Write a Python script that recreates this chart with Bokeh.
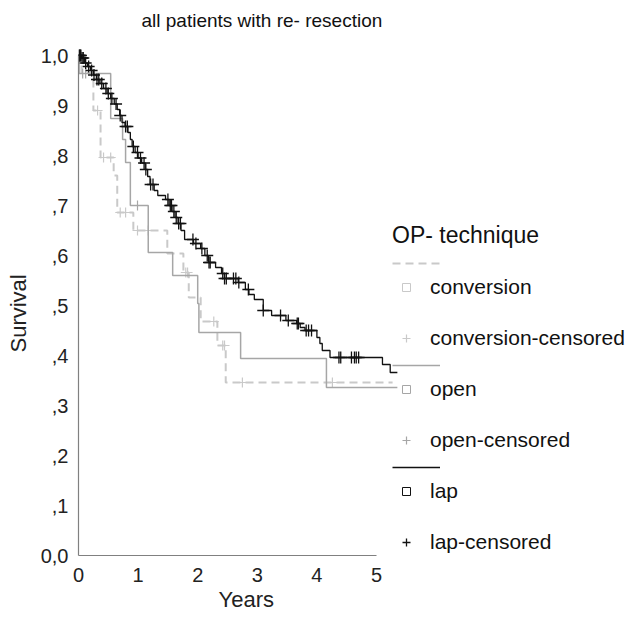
import numpy as np
from bokeh.plotting import figure
from bokeh.models import FixedTicker, Legend, LegendItem, Range1d, Title
from bokeh.core.properties import value
from bokeh.embed import file_html
from bokeh.resources import INLINE

# ---------------- data ----------------
# lap (black)
lap_times = [0.05, 0.10, 0.15, 0.20, 0.25, 0.30, 0.36, 0.42, 0.48, 0.54, 0.60, 0.65, 0.69,
             0.73, 0.78, 0.83, 0.87, 0.90, 0.95, 1.00, 1.06, 1.12, 1.16, 1.20, 1.27, 1.33,
             1.46, 1.52, 1.57, 1.62, 1.67, 1.72, 1.78, 1.93, 2.05, 2.12, 2.18, 2.30, 2.40,
             2.45, 2.68, 2.80, 2.86, 2.95, 3.10, 3.24, 3.48, 3.66, 3.72, 3.80, 4.00, 4.05,
             4.09, 4.22, 5.10, 5.23]
lap_surv = [0.995, 0.985, 0.978, 0.970, 0.961, 0.952, 0.944, 0.934, 0.924, 0.914, 0.903,
            0.892, 0.880, 0.866, 0.858, 0.846, 0.832, 0.818, 0.806, 0.795, 0.785, 0.772,
            0.758, 0.742, 0.730, 0.720, 0.712, 0.700, 0.688, 0.676, 0.664, 0.650, 0.632,
            0.624, 0.614, 0.600, 0.586, 0.576, 0.564, 0.554, 0.546, 0.532, 0.522, 0.512,
            0.490, 0.480, 0.470, 0.464, 0.456, 0.450, 0.436, 0.424, 0.410, 0.396, 0.382,
            0.366]
lap_end = 5.35
lap_censored = [0.01, 0.02, 0.03, 0.04, 0.06, 0.08, 0.12, 0.17, 0.22, 0.26, 0.31, 0.34,
                0.39, 0.46, 0.50, 0.56, 0.63, 0.70, 0.79, 0.82, 0.92, 0.99, 1.04, 1.10,
                1.13, 1.21, 1.25, 1.50, 1.54, 1.56, 1.60, 1.64, 1.68, 1.71, 1.92, 1.97,
                2.07, 2.16, 2.19, 2.21, 2.42, 2.45, 2.48, 2.60, 2.64, 2.69, 2.85, 3.10,
                3.39, 3.52, 3.67, 3.69, 3.82, 3.86, 3.91, 4.37, 4.40, 4.58, 4.63, 4.66,
                4.70]

# open (grey, solid)
open_times = [0.01, 0.54, 0.74, 0.79, 0.87, 1.17, 1.58, 2.00, 2.02, 2.72, 4.16]
open_surv = [0.964, 0.874, 0.832, 0.786, 0.700, 0.606, 0.560, 0.504, 0.446, 0.394, 0.336]
open_end = 5.35
open_censored = [0.07, 0.12, 0.99]

# conversion (light grey, dashed)
conv_times = [0.05, 0.25, 0.37, 0.59, 0.65, 0.92, 1.49, 1.76, 1.85, 2.05, 2.33, 2.47]
conv_surv = [0.965, 0.890, 0.796, 0.760, 0.686, 0.650, 0.604, 0.566, 0.516, 0.468,
             0.420, 0.346]
conv_end = 5.27
conv_censored = [0.32, 0.42, 0.54, 0.70, 0.79, 0.99, 1.17, 1.80, 1.83, 2.27, 2.42, 2.45,
                 2.75, 4.26]

x_ticks = [0, 1, 2, 3, 4, 5]
y_ticks = [0, 0.1, 0.2, 0.3, 0.4, 0.5, 0.6, 0.7, 0.8, 0.9, 1.0]
y_tick_labels = ["0,0", ",1", ",2", ",3", ",4", ",5", ",6", ",7", ",8", ",9", "1,0"]

title_text = "all patients with re- resection"
x_title = "Years"
y_title = "Survival"
legend_title = "OP- technique"

# ---------------- helpers ----------------
def step_xy(times, surv, end):
    x = [0.0] + list(times) + [end]
    y = [1.0] + list(surv) + [surv[-1]]
    return x, y

def censor_y(times, surv, ct):
    t = np.asarray(times)
    s = np.concatenate([[1.0], np.asarray(surv)])
    idx = np.searchsorted(t, np.asarray(ct), side="right")
    return s[idx]

FONT = "Liberation Sans"
PX_PER_YEAR = 59.6
PX_PER_UNIT = 500.0

W, H = 630, 617
LEFT, RIGHT, TOP, BOTTOM = 78, 0, 35, 62
frame_w = W - LEFT - RIGHT
frame_h = H - TOP - BOTTOM

p = figure(width=W, height=H, output_backend="svg", toolbar_location=None,
           x_range=Range1d(0, frame_w / PX_PER_YEAR),
           y_range=Range1d(0, frame_h / PX_PER_UNIT),
           min_border_left=LEFT, min_border_right=RIGHT,
           min_border_top=TOP, min_border_bottom=BOTTOM,
           title=title_text)
p.extra_x_ranges = {"legend_only": Range1d(1000, 1001)}
p.outline_line_color = None
p.grid.visible = False
p.background_fill_color = "white"
p.border_fill_color = "white"

p.title.text_font = FONT
p.title.text_font_size = "19px"
p.title.text_font_style = "normal"
p.title.text_color = "#111111"
p.title.align = "left"
p.title.offset = 63

for ax in (p.xaxis[0], p.yaxis[0]):
    ax.axis_line_color = "#808080"
    ax.axis_line_width = 1.2
    ax.major_tick_line_color = None
    ax.minor_tick_line_color = None
    ax.major_tick_out = 0
    ax.major_tick_in = 0
    ax.minor_tick_out = 0
    ax.major_label_text_font = FONT
    ax.major_label_text_font_size = "20px"
    ax.major_label_text_color = "#222222"

p.xaxis[0].ticker = FixedTicker(ticks=x_ticks)
p.xaxis[0].bounds = (0, 5)
p.xaxis[0].major_label_standoff = 12

p.yaxis[0].ticker = FixedTicker(ticks=y_ticks)
p.yaxis[0].major_label_overrides = {t: l for t, l in zip(y_ticks, y_tick_labels)}
p.yaxis[0].bounds = (0, 1)
p.yaxis[0].major_label_standoff = 10

# axis titles as side-panel titles, so they can sit where the reference has them
p.add_layout(Title(text=x_title, align="left", offset=140, standoff=5,
                   vertical_align="top", text_font=FONT, text_font_size="22px",
                   text_font_style="normal", text_color="#222222"), "below")
p.add_layout(Title(text=y_title, align="left", offset=203, standoff=9,
                   vertical_align="top", text_font=FONT, text_font_size="22px",
                   text_font_style="normal", text_color="#222222"), "left")

C_CONV = "#c9c9c9"
C_OPEN = "#a6a6a6"
C_LAP = "#111111"

series = [
    ("conversion", conv_times, conv_surv, conv_end, conv_censored, C_CONV, "8 5", 2.0, 10, 1.2),
    ("open", open_times, open_surv, open_end, open_censored, C_OPEN, "solid", 1.5, 10, 1.2),
    ("lap", lap_times, lap_surv, lap_end, lap_censored, C_LAP, "solid", 1.3, 12, 1.3),
]

line_items = []
marker_items = []
for name, t, s, end, cen, col, dash, lw, msize, mlw in series:
    xs, ys = step_xy(t, s, end)
    r_line = p.step(xs, ys, mode="after", line_color=col, line_width=lw, line_dash=dash)
    cy = censor_y(t, s, cen)
    r_cen = p.scatter(list(cen), list(cy), marker="cross", size=msize,
                      line_color=col, line_width=mlw)
    # legend symbol for the curve itself (square), drawn on an off-screen range
    r_sq = p.scatter(list(cen), list(cy), marker="square", size=8, fill_color="white",
                     line_color=col, line_width=1.0, x_range_name="legend_only")
    line_items.append(LegendItem(label=value(" "), renderers=[r_line]))
    marker_items.append(LegendItem(label=value(name), renderers=[r_sq]))
    marker_items.append(LegendItem(label=value(name + "-censored"), renderers=[r_cen]))

legA = Legend(items=line_items, location=(314, 76), orientation="vertical",
              glyph_width=48, glyph_height=24, label_width=0, label_height=24,
              label_standoff=0, spacing=78, padding=0, margin=0,
              border_line_color=None, background_fill_alpha=0,
              title=legend_title, title_text_font=FONT, title_text_font_size="23px",
              title_text_font_style="normal", title_text_color="#111111",
              title_standoff=2, label_text_font_size="2px")
legB = Legend(items=marker_items, location=(318, 1), orientation="vertical",
              glyph_width=20, glyph_height=24, label_height=24, label_standoff=14,
              spacing=27, padding=0, margin=0,
              border_line_color=None, background_fill_alpha=0,
              label_text_font=FONT, label_text_font_size="21px",
              label_text_color="#111111")
p.add_layout(legA, "center")
p.add_layout(legB, "center")

open("out.html", "w").write(file_html(p, INLINE))
